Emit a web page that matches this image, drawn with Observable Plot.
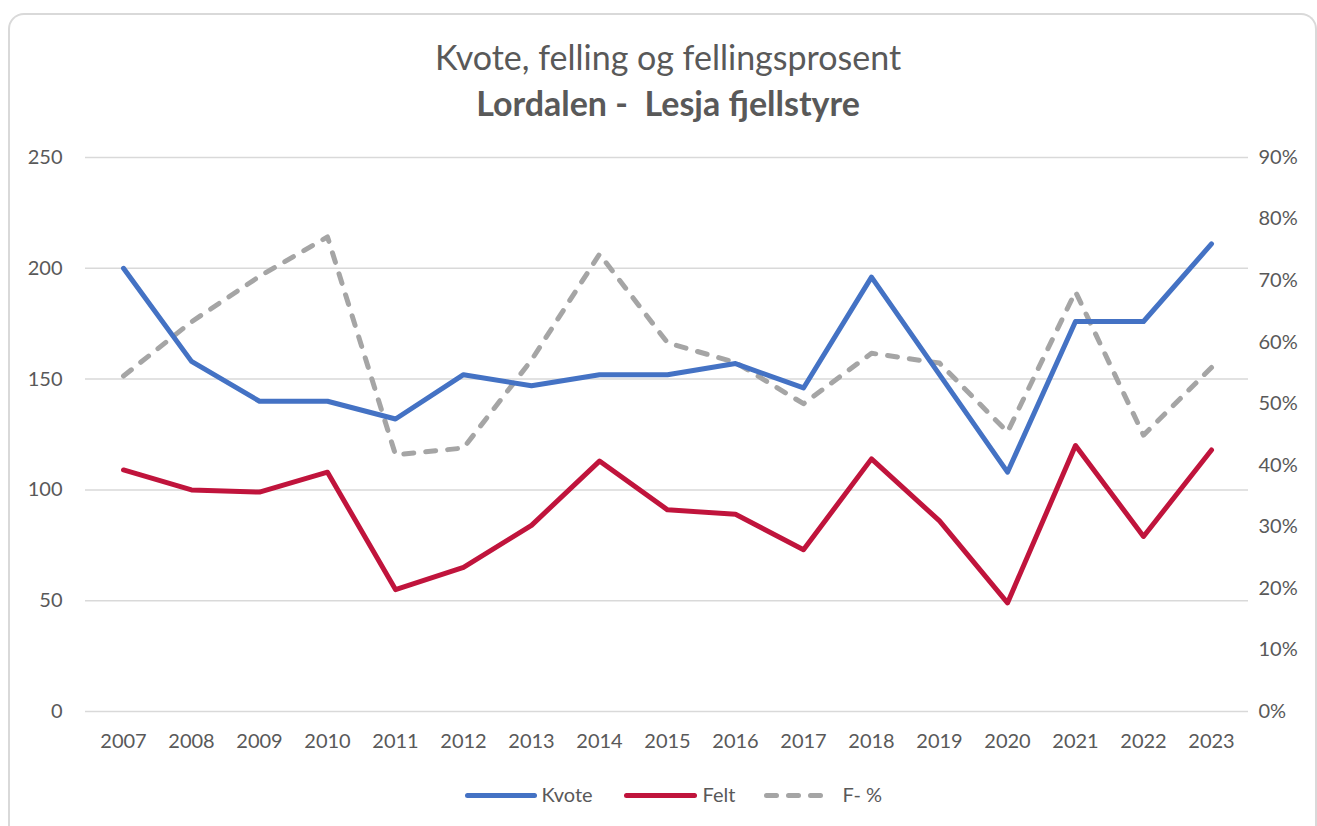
<!DOCTYPE html>
<html>
<head>
<meta charset="utf-8">
<script src="https://cdn.jsdelivr.net/npm/d3@7"></script>
<script src="https://cdn.jsdelivr.net/npm/@observablehq/plot@0.6"></script>
<style>
  html, body { margin: 0; padding: 0; background: #fff; }
  body { font-family: Lato, "Open Sans", sans-serif; color: #595959; }
  #wrap { position: relative; width: 1317px; height: 826px; overflow: hidden; }
  #card { position: absolute; left: 8px; top: 13px; width: 1309px; height: 813px; border: 2px solid #d9d9d9; border-bottom: none; border-radius: 16px 16px 0 0; box-sizing: border-box; }
  #title { position: relative; margin: 0; padding: 34px 0 0 10px; width: 1316px; text-align: center; font-size: 34px; line-height: 46px; color: #595959; white-space: nowrap; }
  #title div { height: 46px; }
  #title b { font-weight: 700; }
  #chart { position: relative; height: 644px; }
  #chart svg, #legend svg { display: block; }
  #legend { position: relative; margin-top: 10px; width: 1317px; height: 30px; }
</style>
<script>
const years = [2007,2008,2009,2010,2011,2012,2013,2014,2015,2016,2017,2018,2019,2020,2021,2022,2023];
const kvote = [200,158,140,140,132,152,147,152,152,157,146,196,152,108,176,176,211];
const felt  = [109,100,99,108,55,65,84,113,91,89,73,114,86,49,120,79,118];
const fPct  = [0.545,0.633,0.707,0.771,0.417,0.428,0.571,0.743,0.599,0.567,0.500,0.582,0.566,0.454,0.682,0.449,0.559];
const leftTicks = [0,50,100,150,200,250];
const rightTicks = [0,0.1,0.2,0.3,0.4,0.5,0.6,0.7,0.8,0.9];
const seriesNames = ["Kvote","Felt","F- %"];
const colors = ["#4472C4","#C0143C","#A5A5A5"];

const LEFT_MAX = 250, RIGHT_MAX = 0.9;
const toLeft = v => v * LEFT_MAX / RIGHT_MAX;
const font = "Lato, 'Open Sans', sans-serif";
const DASH = "10,12";

function draw() {
  const rows = [];
  years.forEach((y,i) => {
    rows.push({year: String(y), series: seriesNames[0], v: kvote[i]});
    rows.push({year: String(y), series: seriesNames[1], v: felt[i]});
  });
  const pctRows = years.map((y,i) => ({year: String(y), v: toLeft(fPct[i])}));

  const chart = Plot.plot({
    width: 1317,
    height: 644,
    marginTop: 31,
    marginBottom: 59,
    marginLeft: 85,
    marginRight: 69,
    style: {fontFamily: font, fontSize: "20px", color: "#595959", background: "transparent"},
    x: {type: "point", domain: years.map(String), padding: 0.5, label: null},
    y: {domain: [0, LEFT_MAX], label: null},
    marks: [
      Plot.gridY(leftTicks, {stroke: "#d9d9d9", strokeOpacity: 1, strokeWidth: 1.5}),
      Plot.axisY(leftTicks, {anchor: "left", tickSize: 0, tickPadding: 23, label: null, fill: "#595959"}),
      Plot.axisY(rightTicks.map(toLeft), {anchor: "right", tickSize: 0, tickPadding: 10, label: null, fill: "#595959",
        tickFormat: d => Math.round(d * RIGHT_MAX / LEFT_MAX * 100) + "%", textAnchor: "start"}),
      Plot.axisX({tickSize: 0, tickPadding: 22, label: null, fill: "#595959"}),
      Plot.line(pctRows, {x: "year", y: "v", stroke: colors[2], strokeWidth: 5, strokeDasharray: DASH, strokeLinecap: "round", strokeLinejoin: "round"}),
      Plot.line(rows, {x: "year", y: "v", z: "series", stroke: d => d.series === "Kvote" ? colors[0] : colors[1], strokeWidth: 5, strokeLinecap: "round", strokeLinejoin: "round"})
    ]
  });
  document.getElementById("chart").appendChild(chart);

  const legendItems = [
    {name: seriesNames[0], x0: 467, x1: 534, tx: 541, c: colors[0], dash: null},
    {name: seriesNames[1], x0: 626, x1: 694, tx: 702, c: colors[1], dash: null},
    {name: seriesNames[2], x0: 766, x1: 828, tx: 842, c: colors[2], dash: DASH}
  ];
  const legend = Plot.plot({
    width: 1317, height: 30, margin: 0,
    style: {fontFamily: font, fontSize: "20px", background: "transparent"},
    x: {type: "identity"}, y: {type: "identity"},
    marks: [
      ...legendItems.map(d => Plot.link([d], {x1: "x0", x2: "x1", y1: 15, y2: 15, stroke: d.c, strokeWidth: 5, strokeLinecap: "round", strokeDasharray: d.dash || null})),
      Plot.text(legendItems, {x: "tx", y: 15, text: "name", textAnchor: "start", fill: "#595959"})
    ]
  });
  document.getElementById("legend").appendChild(legend);
}
document.addEventListener("DOMContentLoaded", draw);
</script>
</head>
<body>
<div id="wrap">
<div id="card"></div>
<div id="title"><div>Kvote, felling og fellingsprosent</div><div><b>Lordalen -&nbsp; Lesja fjellstyre</b></div></div>
<div id="chart"></div>
<div id="legend"></div>
</div>
</body>
</html>
